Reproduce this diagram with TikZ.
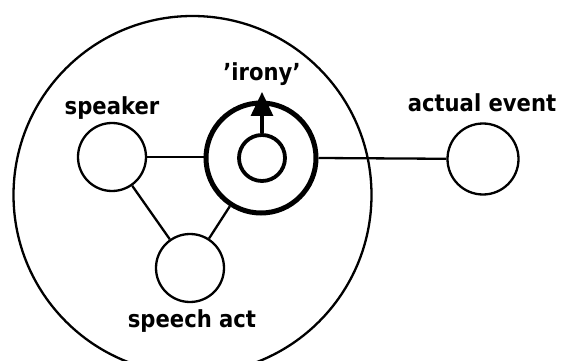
\documentclass[tikz,border=0pt]{standalone}
\usepackage{fontspec}
\setmainfont{DejaVu Sans Condensed}
\usetikzlibrary{arrows.meta}
\begin{document}
\begin{tikzpicture}[x=1pt,y=-1pt,
  ent/.style={circle,draw,line width=2.3pt,minimum size=68pt,inner sep=0pt},
  lbl/.style={font=\bfseries\fontsize{23.5}{25}\selectfont,inner sep=0pt},
  link/.style={line width=2.3pt}]
\useasboundingbox (0,0) rectangle (563,361);
\clip (0,0) rectangle (563,361);
\node[circle,draw,line width=2.3pt,minimum size=358pt,inner sep=0pt] (world) at (192.5,195) {};
\node[ent] (speaker) at (112,157) {};
\node[ent] (act) at (190,268) {};
\node[ent,minimum size=71pt] (event) at (483,159) {};
\node[circle,draw,line width=5pt,minimum size=110pt,inner sep=0pt] (irony) at (261,158) {};
\node[circle,draw,line width=3.8pt,minimum size=46pt,inner sep=0pt] (inner) at (262,158) {};
\coordinate (tip) at (262,92);
\draw[line width=3.2pt,-{Triangle[length=24pt,width=22pt]}] (inner.north) -- (tip);
\draw[link] (speaker) -- (speaker -| irony.west);
\draw[link] (irony.east) -- (event);
\draw[link] (speaker) -- (act);
\draw[link] (irony) -- (act);
\node[lbl] (lspeaker) at (112,108) {speaker};
\node[lbl] (lact) at (192,321) {speech act};
\node[lbl] (levent) at (482,103) {actual event};
\node[lbl] (lirony) at (262,74) {’irony’};
\end{tikzpicture}
\end{document}
